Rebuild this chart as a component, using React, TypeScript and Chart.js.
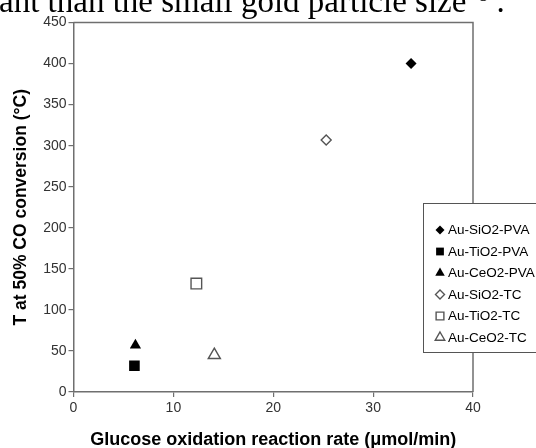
import React, { useEffect, useRef } from 'react';
import { Chart, registerables } from 'chart.js';

Chart.register(...registerables);

const seriesNames = ['Au-SiO2-PVA', 'Au-TiO2-PVA', 'Au-CeO2-PVA', 'Au-SiO2-TC', 'Au-TiO2-TC', 'Au-CeO2-TC'];
const rateValues = [33.8, 6.1, 6.2, 25.3, 12.3, 14.1];
const tempValues = [400, 32, 57, 307, 132, 45];
const markerShapes = ['rectRot', 'rect', 'triangle', 'rectRot', 'rect', 'triangle'];
const markerFilled = [true, true, true, false, false, false];
const markerRadius = [5.5, 7.5, 6.5, 5, 7.5, 7];
const legendRadius = [4.5, 5.5, 5.5, 4.5, 5.5, 5.5];
const xTickValues = [0, 10, 20, 30, 40];
const yTickValues = [0, 50, 100, 150, 200, 250, 300, 350, 400, 450];

const AXIS_COLOR = '#6f6f6f';
const OPEN_COLOR = '#555555';
const SANS = '"Liberation Sans", Arial, sans-serif';

function drawMarker(ctx: CanvasRenderingContext2D, shape: string, x: number, y: number, r: number, filled: boolean) {
  ctx.beginPath();
  if (shape === 'rectRot') {
    ctx.moveTo(x - r, y);
    ctx.lineTo(x, y - r);
    ctx.lineTo(x + r, y);
    ctx.lineTo(x, y + r);
    ctx.closePath();
  } else if (shape === 'rect') {
    const s = Math.SQRT1_2 * r;
    ctx.rect(x - s, y - s, 2 * s, 2 * s);
  } else {
    ctx.moveTo(x, y - r);
    ctx.lineTo(x + r * Math.sin((2 * Math.PI) / 3), y - r * Math.cos((2 * Math.PI) / 3));
    ctx.lineTo(x + r * Math.sin((4 * Math.PI) / 3), y - r * Math.cos((4 * Math.PI) / 3));
    ctx.closePath();
  }
  if (filled) {
    ctx.fillStyle = '#000';
    ctx.fill();
  } else {
    ctx.fillStyle = '#fff';
    ctx.fill();
    ctx.strokeStyle = OPEN_COLOR;
    ctx.lineWidth = 1.4;
    ctx.stroke();
  }
}

const frameAndLegend = {
  id: 'frameAndLegend',
  afterDraw(chart: any) {
    const { ctx, chartArea } = chart;
    ctx.save();
    ctx.strokeStyle = AXIS_COLOR;
    ctx.lineWidth = 1.5;
    ctx.beginPath();
    ctx.moveTo(chartArea.left, chartArea.top);
    ctx.lineTo(chartArea.right, chartArea.top);
    ctx.lineTo(chartArea.right, chartArea.bottom);
    ctx.stroke();
    const lx = 423;
    const ly = 203;
    const lh = 149;
    ctx.fillStyle = '#fff';
    ctx.fillRect(lx, ly, 200, lh);
    ctx.strokeStyle = '#555';
    ctx.lineWidth = 1;
    ctx.strokeRect(lx + 0.5, ly + 0.5, 200, lh);
    ctx.font = '13.5px ' + SANS;
    ctx.textBaseline = 'middle';
    ctx.textAlign = 'left';
    seriesNames.forEach((name, i) => {
      const cy = ly + 27 + i * 21.5;
      drawMarker(ctx, markerShapes[i], 440, cy, legendRadius[i], markerFilled[i]);
      ctx.fillStyle = '#000';
      ctx.fillText(name, 448, cy + 0.5);
    });
    ctx.restore();
  },
};

export default function App() {
  const canvasRef = useRef<HTMLCanvasElement | null>(null);

  useEffect(() => {
    if (!canvasRef.current) return;
    const datasets = seriesNames.map((name, i) => ({
      label: name,
      data: [{ x: rateValues[i], y: tempValues[i] }],
      pointStyle: markerShapes[i] as any,
      pointRadius: markerRadius[i],
      pointHoverRadius: markerRadius[i],
      pointBackgroundColor: markerFilled[i] ? '#000' : '#fff',
      pointBorderColor: markerFilled[i] ? '#000' : OPEN_COLOR,
      pointBorderWidth: markerFilled[i] ? 0 : 1.4,
      showLine: false,
    }));
    const chart = new Chart(canvasRef.current, {
      type: 'scatter',
      data: { datasets },
      options: {
        responsive: false,
        animation: false,
        layout: { padding: { top: 22.5, right: 63, left: 0, bottom: 0 } },
        plugins: { legend: { display: false }, tooltip: { enabled: false } },
        scales: {
          x: {
            type: 'linear',
            min: 0,
            max: 40,
            afterFit: (s: any) => { s.height = 56; },
            afterBuildTicks: (s: any) => { s.ticks = xTickValues.map((v) => ({ value: v })); },
            ticks: { color: '#333', font: { size: 14, family: SANS }, padding: 3, maxRotation: 0 },
            grid: { drawOnChartArea: false, drawTicks: true, tickLength: 5, color: AXIS_COLOR, lineWidth: 1.2 },
            border: { display: true, color: AXIS_COLOR, width: 1.5 },
            title: {
              display: true,
              text: 'Glucose oxidation reaction rate (μmol/min)',
              color: '#000',
              font: { size: 18, weight: 'bold', family: SANS },
              padding: { top: 0, bottom: -3 },
            },
          },
          y: {
            type: 'linear',
            min: 0,
            max: 450,
            afterFit: (s: any) => { s.width = 73.5; },
            afterBuildTicks: (s: any) => { s.ticks = yTickValues.map((v) => ({ value: v })); },
            ticks: { color: '#333', font: { size: 14, family: SANS }, padding: 2 },
            grid: { drawOnChartArea: false, drawTicks: true, tickLength: 5, color: AXIS_COLOR, lineWidth: 1.2 },
            border: { display: true, color: AXIS_COLOR, width: 1.5 },
            title: {
              display: true,
              text: 'T at 50% CO conversion (°C)',
              color: '#000',
              font: { size: 17.5, weight: 'bold', family: SANS },
              padding: { top: 11, bottom: 0 },
            },
          },
        },
      },
      plugins: [frameAndLegend],
    });
    return () => chart.destroy();
  }, []);

  return (
    <div style={{ position: 'absolute', left: 0, top: 0, width: 536, height: 448, overflow: 'hidden', background: '#fff' }}>
      <canvas ref={canvasRef} width={536} height={448} style={{ position: 'absolute', left: 0, top: 0, width: 536, height: 448 }} />
      <div
        style={{
          position: 'absolute',
          left: -1,
          top: -15.5,
          font: '33px "Liberation Serif", "Times New Roman", serif',
          lineHeight: '33px',
          whiteSpace: 'nowrap',
          color: '#000',
        }}
      >
        ant than the small gold particle size
        <sup style={{ fontSize: 20, lineHeight: '20px', verticalAlign: 'top', position: 'relative', top: -1, marginLeft: 12 }}>8</sup>
        &nbsp;.
      </div>
    </div>
  );
}
